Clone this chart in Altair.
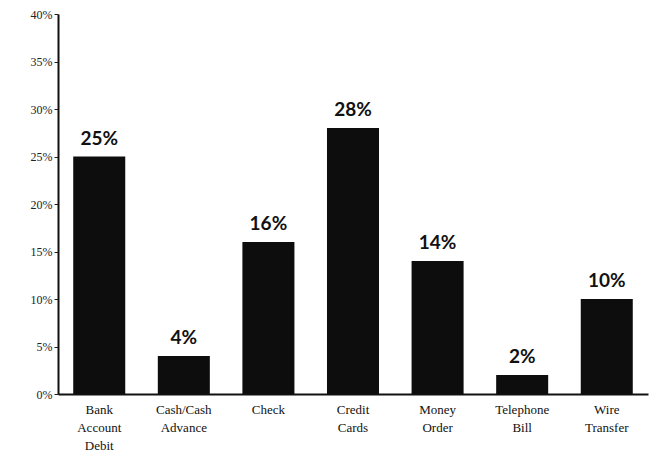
import altair as alt
import pandas as pd

categories = ["Bank Account Debit", "Cash/Cash Advance", "Check", "Credit Cards",
              "Money Order", "Telephone Bill", "Wire Transfer"]
values = [25, 4, 16, 28, 14, 2, 10]
value_labels = ["25%", "4%", "16%", "28%", "14%", "2%", "10%"]
y_ticks = [0, 5, 10, 15, 20, 25, 30, 35, 40]

df = pd.DataFrame({"cat": categories, "val": values, "lab": value_labels})

x = alt.X("cat:N", sort=categories, title=None,
          scale=alt.Scale(paddingInner=0.385, paddingOuter=0.18),
          axis=alt.Axis(labelAngle=0, labelExpr="split(datum.label, ' ')",
                        labelFont="Liberation Serif", labelFontSize=13, labelColor="#111",
                        labelLineHeight=18, labelPadding=9, ticks=False,
                        domainColor="#111", domainWidth=2))
y = alt.Y("val:Q", title=None,
          scale=alt.Scale(domain=[0, 40], nice=False),
          axis=alt.Axis(values=y_ticks, labelExpr="datum.value + '%'",
                        labelFont="Liberation Serif", labelFontSize=12, labelColor="#222",
                        tickSize=4, tickColor="#222", domainColor="#111", domainWidth=2,
                        grid=False, labelPadding=2))

bars = alt.Chart(df).mark_bar(color="#0d0d0d").encode(x=x, y=y)
texts = alt.Chart(df).mark_text(font="Lato", fontWeight="bold", fontSize=19,
                                color="#111", baseline="bottom", dy=-8).encode(
    x=alt.X("cat:N", sort=categories), y="val:Q", text="lab:N")

chart = (bars + texts).properties(
    width=590, height=380,
    background="white",
    autosize=alt.AutoSizeParams(type="none"),
    padding={"left": 50, "top": 6, "right": 2, "bottom": 65},
).configure_view(stroke=None)

chart.save("out.html", embed_options={"renderer": "svg", "actions": False})
